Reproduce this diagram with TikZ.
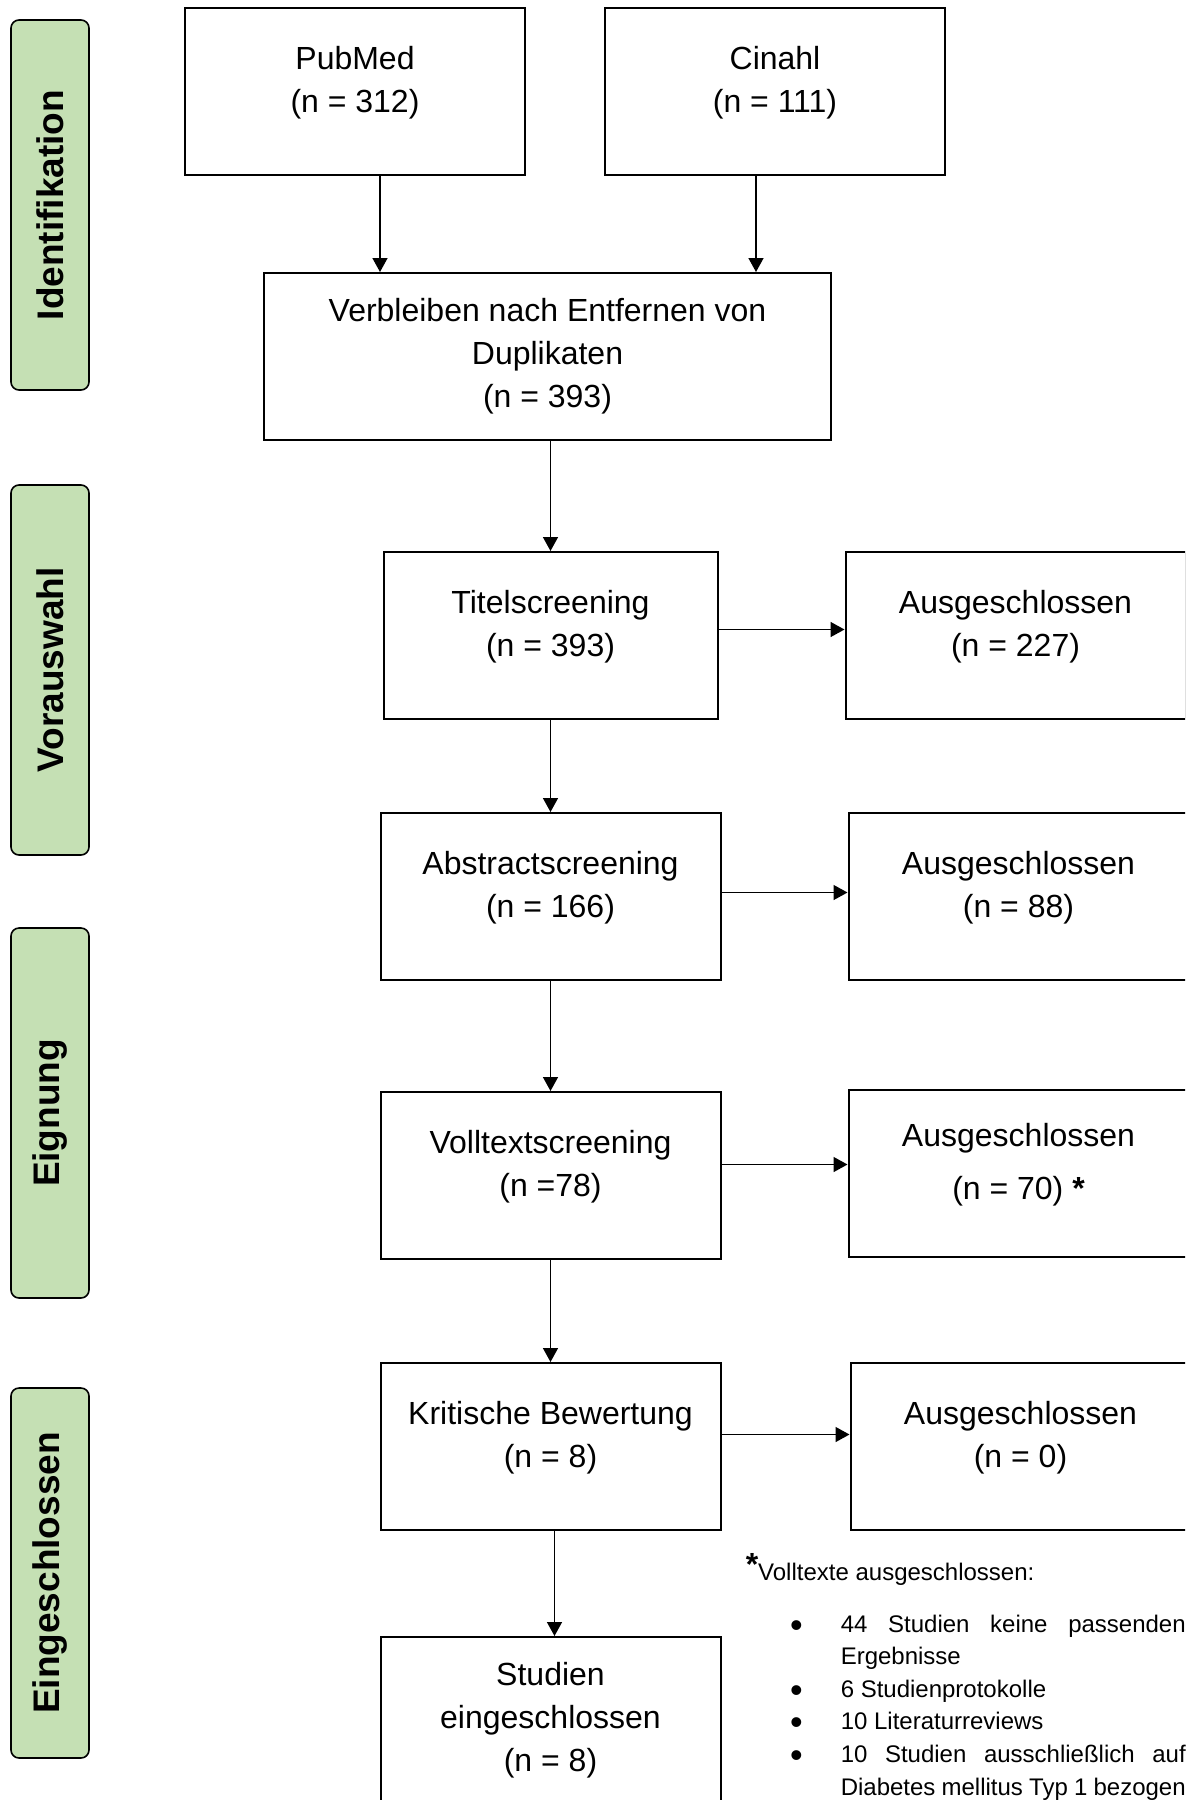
\documentclass[tikz,border=0pt]{standalone}
\usepackage{fontspec}
\setmainfont{Liberation Sans}
\usepackage{xcolor}
\usepackage{tikz}
\usetikzlibrary{positioning}
\usetikzlibrary{arrows.meta}

\definecolor{phasegreen}{HTML}{C5E0B4}
\hyphenpenalty=10000
\tolerance=9999
\newcommand{\punkt}{\noindent\hangindent=25pt\hangafter=0\llap{\raisebox{-2.5pt}{\scalebox{1.5}{\textbullet}}\hspace{19pt}}}

\begin{document}
\begin{tikzpicture}[
        x=0.5pt, y=-0.5pt, line width=0.75pt,
        >={Triangle[length=7pt,width=7.5pt]},
        box/.style={rectangle, draw=black, line width=1pt, minimum width=170pt, minimum height=83.5pt, align=center, font=\fontsize{16pt}{21.5pt}\selectfont},
        hoch/.style={text depth=12pt},
        phase/.style={rectangle, rounded corners=4pt, draw=black, line width=0.8pt, fill=phasegreen, rotate=90, minimum width=185pt, minimum height=39pt, font=\fontsize{18.5pt}{22pt}\selectfont\bfseries},
        note/.style={inner sep=0pt, font=\fontsize{12pt}{16.3pt}\selectfont}
    ]

    \useasboundingbox (0,0) rectangle (1185,1800);
    \clip (0,0) rectangle (1185,1800);

    \node[phase] (p1) at (50,205) {Identifikation};
    \node[phase] (p2) at (50,670) {Vorauswahl};
    \node[phase] (p3) at (50,1113) {Eignung};
    \node[phase] (p4) at (50,1573) {Eingeschlossen};

    \node[box, hoch] (pubmed) at (355,91.5) {PubMed\\(n = 312)};
    \node[box, hoch] (cinahl) [right=39pt of pubmed] {Cinahl\\(n = 111)};
    \node[box, minimum width=283.5pt] (dupl) at (547.5,356.5) {Verbleiben nach Entfernen von\\Duplikaten\\(n = 393)};
    \node[box, hoch, minimum width=167pt] (titel) [below=55pt of dupl, xshift=1.5pt] {Titelscreening\\(n = 393)};
    \node[box, hoch] (abstract) [below=46pt of titel] {Abstractscreening\\(n = 166)};
    \node[box, hoch] (volltext) [below=55pt of abstract] {Volltextscreening\\(n =78)};
    \node[box, hoch] (kritisch) [below=51pt of volltext] {Kritische Bewertung\\(n = 8)};
    \node[box] (studien) [below=52.5pt of kritisch] {Studien\\eingeschlossen\\(n = 8)};

    \node[box, hoch] (aus1) [right=63pt of titel] {Ausgeschlossen\\(n = 227)};
    \node[box, hoch] (aus2) [right=63pt of abstract] {Ausgeschlossen\\(n = 88)};
    \node[box, hoch] (aus3) [right=63pt of volltext, yshift=1.25pt] {Ausgeschlossen\\[5pt](n = 70) \textbf{*}};
    \node[box, hoch] (aus4) [right=64pt of kritisch] {Ausgeschlossen\\(n = 0)};

    \draw[->] ([xshift=12.5pt]pubmed.south) to ([xshift=12.5pt]pubmed.south |- dupl.north);
    \draw[->] ([xshift=-9.5pt]cinahl.south) to ([xshift=-9.5pt]cinahl.south |- dupl.north);
    \draw[->] (titel.north |- dupl.south) to (titel.north);
    \draw[->] (titel.south) to (abstract.north);
    \draw[->] (abstract.south) to (volltext.north);
    \draw[->] (volltext.south) to (kritisch.north);
    \draw[->] ([xshift=2pt]kritisch.south) to ([xshift=2pt]studien.north);

    \draw[->] ([yshift=3pt]titel.east) to ([yshift=3pt]titel.east -| aus1.west);
    \draw[->] ([yshift=2pt]abstract.east) to ([yshift=2pt]abstract.east -| aus2.west);
    \draw[->] ([yshift=5.5pt]volltext.east) to ([yshift=5.5pt]volltext.east -| aus3.west);
    \draw[->] ([yshift=6pt]kritisch.east) to ([yshift=6pt]kritisch.east -| aus4.west);

    \node[note, anchor=base west] (stern) at (745,1580) {\raisebox{2.5pt}{\fontsize{16pt}{16pt}\selectfont\bfseries *}Volltexte ausgeschlossen:};
    \node[note, text width=197.5pt, align=justify, anchor=base west] (liste) at (790,1632) {%
        \punkt 44 Studien keine passenden Ergebnisse\par
        \punkt 6 Studienprotokolle\par
        \punkt 10 Literaturreviews\par
        \punkt 10 Studien ausschließlich auf Diabetes mellitus Typ 1 bezogen\par};
\end{tikzpicture}
\end{document}
